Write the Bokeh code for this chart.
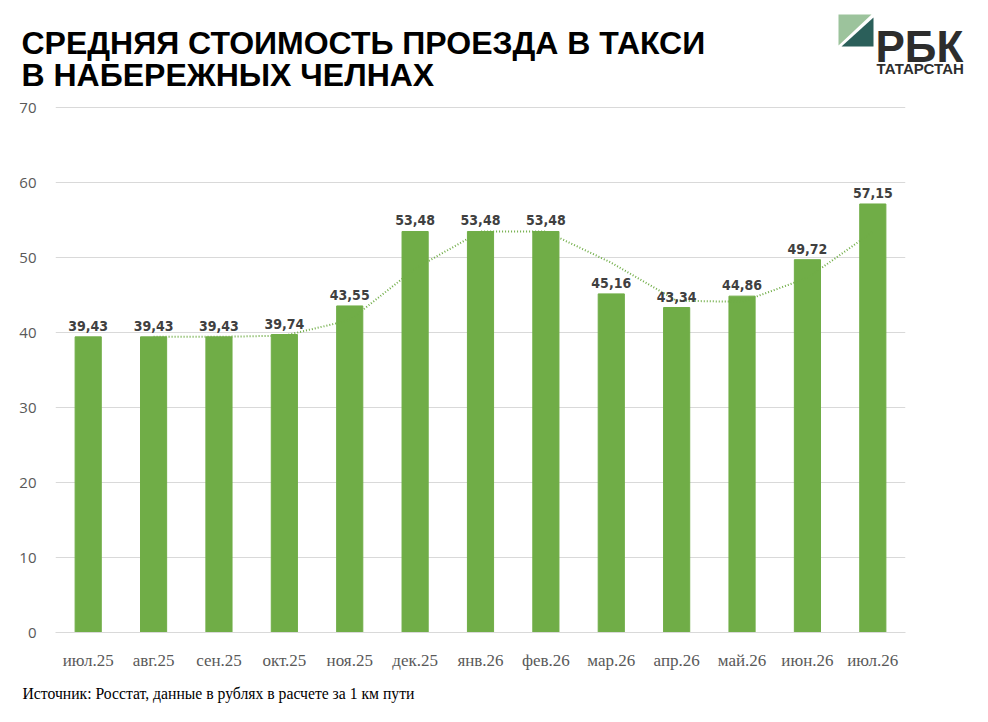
from bokeh.plotting import figure
from bokeh.layouts import column
from bokeh.models import ColumnDataSource, FixedTicker, Range1d
from bokeh.core.properties import value
from bokeh.embed import file_html
from bokeh.resources import INLINE

months = ["июл.25", "авг.25", "сен.25", "окт.25", "ноя.25", "дек.25", "янв.26",
          "фев.26", "мар.26", "апр.26", "май.26", "июн.26", "июл.26"]
prices = [39.43, 39.43, 39.43, 39.74, 43.55, 53.48, 53.48, 53.48, 45.16, 43.34, 44.86, 49.72, 57.15]
price_labels = ["39,43", "39,43", "39,43", "39,74", "43,55", "53,48", "53,48",
                "53,48", "45,16", "43,34", "44,86", "49,72", "57,15"]
trend_months = months[1:]
trend_values = [39.43, 39.43, 39.59, 41.65, 48.52, 53.48, 53.48, 49.32, 44.25, 44.10, 47.29, 53.44]
y_ticks = [0, 10, 20, 30, 40, 50, 60, 70]

title_lines = ["СРЕДНЯЯ СТОИМОСТЬ ПРОЕЗДА В ТАКСИ", "В НАБЕРЕЖНЫХ ЧЕЛНАХ"]
source_text = "Источник: Росстат, данные в рублях в расчете за 1 км пути"

GREEN = "#70ad47"
W = 972
HEAD_H = 96
MAIN_H = 576
FOOT_H = 34


def blank(h):
    f = figure(width=W, height=h, x_range=Range1d(0, W), y_range=Range1d(h, 0),
               output_backend="svg", toolbar_location=None,
               min_border=0, min_border_left=0, min_border_right=0,
               min_border_top=0, min_border_bottom=0)
    f.axis.visible = False
    f.grid.grid_line_color = None
    f.outline_line_color = None
    try:
        f.frame_align = False
    except Exception:
        pass
    return f


# ---- header ----
head = blank(HEAD_H)
head.text(x=[21, 21], y=[42, 74], text=title_lines, text_font=value("Liberation Sans"),
          text_font_style="bold", text_font_size="32px", text_color="black",
          text_baseline="alphabetic", text_align="left")
head.patch([838, 871, 838], [14, 14, 45], color="#9cc39c", line_color=None)
head.patch([873, 873, 841], [17, 46, 46], color="#2b5f5a", line_color=None)
head.text(x=[875], y=[46], text=["РБК"], text_font=value("Liberation Sans"),
          text_font_style="bold", text_font_size="44px", text_color="#2d2d2d",
          text_baseline="alphabetic")
head.text(x=[876], y=[68], text=["ТАТАРСТАН"], text_font=value("Liberation Sans"),
          text_font_style="bold", text_font_size="15px", text_color="#2d2d2d",
          text_baseline="alphabetic")

# ---- main chart ----
p = figure(x_range=months, y_range=(0, 70.15), width=W, height=MAIN_H,
           output_backend="svg", toolbar_location=None,
           min_border_left=55, min_border_right=W - 905, min_border_top=10,
           min_border_bottom=34)
p.outline_line_color = None
p.background_fill_color = "white"

src = ColumnDataSource(dict(m=months, v=prices, lab=price_labels))
p.vbar(x="m", top="v", width=0.4, color=GREEN, source=src)
p.line(trend_months, trend_values, line_color=GREEN, line_width=2, line_dash="1 2")
p.text(x="m", y="v", text="lab", source=src, text_align="center", text_baseline="bottom",
       y_offset=-6, text_font=value("'DejaVu Sans Condensed', 'Roboto'"), text_font_style="bold",
       text_font_size="14px", text_color="#404040")

p.yaxis.ticker = FixedTicker(ticks=y_ticks)
p.yaxis.axis_line_color = None
p.yaxis.major_tick_line_color = None
p.yaxis.minor_tick_line_color = None
p.yaxis.major_label_text_font = "Open Sans"
p.yaxis.major_label_text_font_size = "15px"
p.yaxis.major_label_text_color = "#595959"
p.yaxis.major_label_standoff = 13

p.xaxis.axis_line_color = "#d9d9d9"
p.xaxis.major_tick_line_color = None
p.xaxis.minor_tick_line_color = None
p.xaxis.major_label_text_font = "Liberation Serif"
p.xaxis.major_label_text_font_size = "17px"
p.xaxis.major_label_text_color = "#595959"
p.xaxis.major_label_standoff = 12

p.xgrid.grid_line_color = None
p.ygrid.grid_line_color = "#d9d9d9"
p.ygrid.grid_line_width = 1

# ---- footer ----
foot = blank(FOOT_H)
foot.text(x=[22], y=[21], text=[source_text], text_font=value("Liberation Serif"),
          text_font_size="15.7px", text_color="black", text_baseline="alphabetic")

layout = column(head, p, foot, spacing=0)
open("out.html", "w").write(file_html(layout, INLINE))
